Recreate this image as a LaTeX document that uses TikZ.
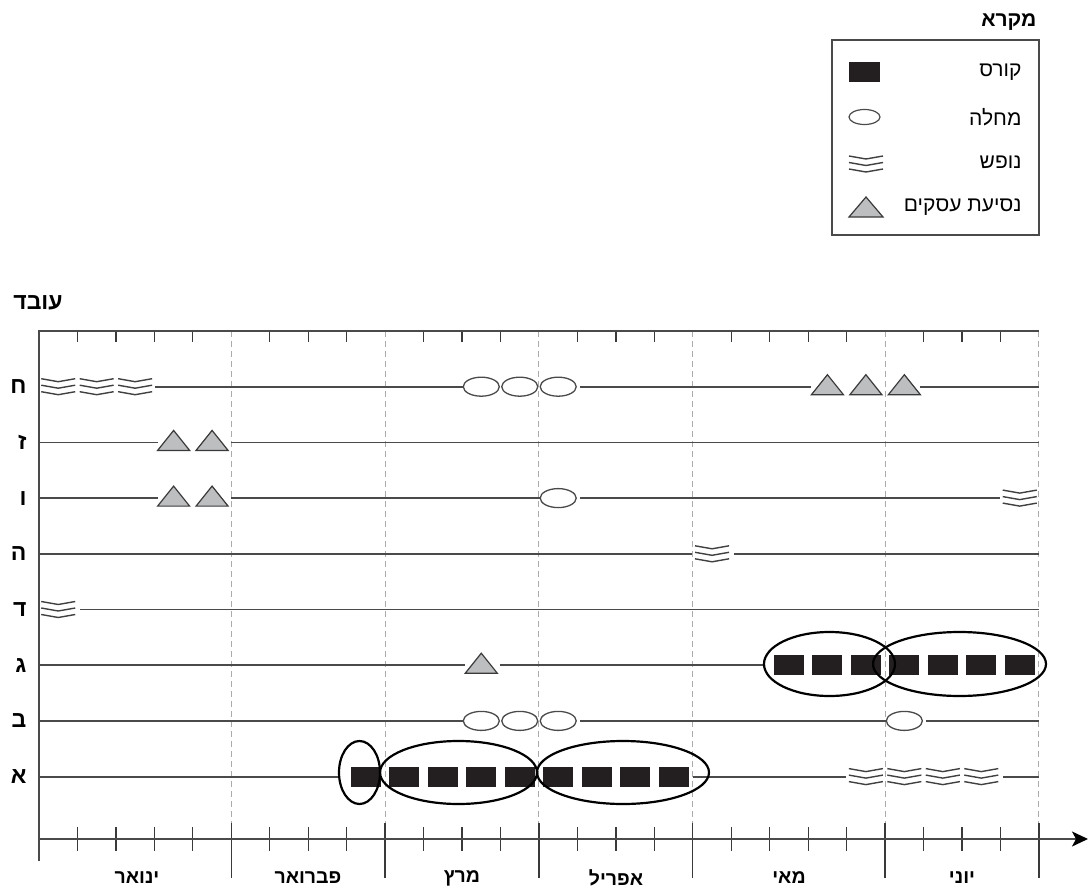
\documentclass[tikz,border=0pt]{standalone}
\usepackage{fontspec}
\setmainfont{Liberation Sans}
\newfontfamily\heb[Script=Hebrew]{Liberation Sans}
\newfontfamily\hebB[Script=Hebrew]{Liberation Sans Bold}
\TeXXeTstate=1
\usetikzlibrary{arrows.meta,shapes.geometric}
\definecolor{linegray}{HTML}{4A4A4A}
\definecolor{dashgray}{HTML}{ABABAB}
\definecolor{tripfill}{HTML}{BCBEC0}
\definecolor{blk}{HTML}{231F20}
\definecolor{tickc}{HTML}{3A3A3A}
\definecolor{wavec}{HTML}{404040}
\def\RyH{386.7}\def\RyZ{442.4}\def\RyV{498.1}\def\RyHe{553.8}
\def\RyD{609.5}\def\RyG{665.2}\def\RyB{720.9}\def\RyA{776.6}
\newcommand\gx[1]{(39+38.46*(#1))}
\newcommand\cx[1]{(39+38.46*(#1+0.5))}
\newcommand\crs[3]{\node[course] (#3) at ({\cx{#1}},#2) {};}
\newcommand\ilx[3]{\node[illn] (#3) at ({\cx{#1}},#2) {};}
\newcommand\trx[2]{\pgfmathsetmacro\tcx{\cx{#1}}%
  \draw[tripst] ({\tcx-16},{#2+8}) -- ({\tcx+16},{#2+8}) -- (\tcx,{#2-12}) -- cycle;}
\newcommand\wvraw[3]{\foreach \o in {-8,-1.5,5}{%
  \draw[wavest] ({#1-#3},{#2+\o}) -- ({#1},{#2+\o+3}) -- ({#1+#3},{#2+\o});}}
\newcommand\wvx[2]{\pgfmathsetmacro\wcx{\cx{#1}}\wvraw{\wcx}{#2}{17}}
\newcommand\seg[3]{\draw[rowline] ({#1},#3) -- ({#2},#3);}
\begin{document}
\begin{tikzpicture}[x=1pt,y=-1pt,
  rowline/.style={draw=linegray,line width=1.8pt},
  frame/.style={draw=linegray,line width=1.6pt},
  tick/.style={draw=tickc,line width=1.3pt},
  monthsep/.style={draw=dashgray,line width=1pt,dash pattern=on 6pt off 4pt},
  course/.style={rectangle,fill=blk,minimum width=30pt,minimum height=20pt,inner sep=0pt},
  illn/.style={ellipse,draw=linegray,fill=white,line width=1.3pt,minimum width=36pt,minimum height=19pt,inner sep=0pt},
  tripst/.style={draw=tickc,fill=tripfill,line width=1.2pt,line join=miter},
  wavest/.style={draw=wavec,line width=1.4pt},
  hilite/.style={ellipse,draw=black,line width=2.2pt,inner sep=0pt},
  rowlab/.style={anchor=east,font=\hebB\fontsize{23}{23}\selectfont},
  monlab/.style={font=\hebB\fontsize{19.5}{19.5}\selectfont},
  title/.style={font=\hebB\fontsize{21}{21}\selectfont},
  leglab/.style={anchor=east,font=\heb\fontsize{21}{21}\selectfont}
]
\useasboundingbox (0,0) rectangle (1088,891);

% ---------- legend ----------
\node[title,anchor=east] (legtitle) at (1040,22) {\beginR מקרא\endR};
\draw[draw=linegray,line width=1.2pt] (832,40) rectangle (1039,235);
\node[rectangle,fill=blk,minimum width=31pt,minimum height=20pt,inner sep=0pt] (legc) at (864.5,72) {};
\node[ellipse,draw=linegray,fill=white,line width=1.2pt,minimum width=31pt,minimum height=15pt,inner sep=0pt] (legi) at (864.5,117) {};
\wvraw{866}{164}{17}
\draw[tripst] (849,217) -- (883,217) -- (866,197) -- cycle;
\node[leglab] (l1) at (1025,72) {\beginR קורס\endR};
\node[leglab] (l2) at (1025,117) {\beginR מחלה\endR};
\node[leglab] (l3) at (1025,162) {\beginR נופש\endR};
\node[leglab] (l4) at (1025,207) {\beginR נסיעת עסקים\endR};

% ---------- axis title ----------
\node[title,font=\hebB\fontsize{23}{23}\selectfont] (ytitle) at (38,303) {\beginR עובד\endR};

% ---------- month separators ----------
\foreach \i in {5,9,13,17,22,26}{
  \draw[monthsep] ({\gx{\i}},331) -- ({\gx{\i}},823);
  \draw[tick] ({\gx{\i}},823) -- ({\gx{\i}},878);
}
\foreach \i in {1,2,3,4,6,7,8,10,11,12,14,15,16,18,19,20,21,23,24,25}{
  \draw[tick] ({\gx{\i}},331) -- ({\gx{\i}},342);
  \draw[tick] ({\gx{\i}},827) -- ({\gx{\i}},851);
}
\draw[frame] (39,861) -- (39,331) -- (1039,331);
\draw[frame,-{Stealth[length=16pt,width=15pt,inset=4pt,color=black,fill=black]}] (39,839) -- (1088,839);

% ---------- row labels ----------
\node[rowlab] (lH) at (30,\RyH) {\beginR ח\endR};
\node[rowlab] (lZ) at (30,\RyZ) {\beginR ז\endR};
\node[rowlab] (lV) at (30,\RyV) {\beginR ו\endR};
\node[rowlab] (lHe) at (30,\RyHe) {\beginR ה\endR};
\node[rowlab] (lD) at (30,\RyD) {\beginR ד\endR};
\node[rowlab] (lG) at (30,\RyG) {\beginR ג\endR};
\node[rowlab] (lB) at (30,\RyB) {\beginR ב\endR};
\node[rowlab] (lA) at (30,\RyA) {\beginR א\endR};

% ---------- month labels ----------
\node[monlab] (m1) at (137,878) {\beginR ינואר\endR};
\node[monlab] (m2) at (308,878) {\beginR פברואר\endR};
\node[monlab] (m3) at (462,878) {\beginR מרץ\endR};
\node[monlab] (m4) at (616,878) {\beginR אפריל\endR};
\node[monlab] (m5) at (789,878) {\beginR מאי\endR};
\node[monlab] (m6) at (962,878) {\beginR יוני\endR};

% ---------- row ח ----------
\wvx{0}{\RyH}\wvx{1}{\RyH}\wvx{2}{\RyH}
\seg{\gx{3}+1}{\cx{11}-18}{\RyH}
\ilx{11}{\RyH}{h11}\ilx{12}{\RyH}{h12}\ilx{13}{\RyH}{h13}
\seg{\cx{13}+22}{\cx{20}-16}{\RyH}
\trx{20}{\RyH}\trx{21}{\RyH}\trx{22}{\RyH}
\seg{\cx{22}+16}{\gx{26}}{\RyH}

% ---------- row ז ----------
\seg{\gx{0}}{\cx{3}-16}{\RyZ}
\trx{3}{\RyZ}\trx{4}{\RyZ}
\seg{\cx{4}+19}{\gx{26}}{\RyZ}

% ---------- row ו ----------
\seg{\gx{0}}{\cx{3}-16}{\RyV}
\trx{3}{\RyV}\trx{4}{\RyV}
\seg{\cx{4}+19}{\cx{13}-18}{\RyV}
\ilx{13}{\RyV}{v13}
\seg{\cx{13}+22}{\cx{25}-20}{\RyV}
\wvx{25}{\RyV}

% ---------- row ה ----------
\seg{\gx{0}}{\cx{17}-20}{\RyHe}
\wvx{17}{\RyHe}
\seg{\cx{17}+22}{\gx{26}}{\RyHe}

% ---------- row ד ----------
\wvx{0}{\RyD}
\seg{\cx{0}+22}{\gx{26}}{\RyD}

% ---------- row ג ----------
\seg{\gx{0}}{\cx{11}-16}{\RyG}
\trx{11}{\RyG}
\seg{\cx{11}+19}{764}{\RyG}
\foreach \k in {19,...,25}{\crs{\k}{\RyG}{g\k}}

% ---------- row ב ----------
\seg{\gx{0}}{\cx{11}-18}{\RyB}
\ilx{11}{\RyB}{b11}\ilx{12}{\RyB}{b12}\ilx{13}{\RyB}{b13}
\seg{\cx{13}+22}{\cx{22}-18}{\RyB}
\ilx{22}{\RyB}{b22}
\seg{\cx{22}+22}{\gx{26}}{\RyB}

% ---------- row א ----------
\seg{\gx{0}}{339}{\RyA}
\foreach \k in {8,...,16}{\crs{\k}{\RyA}{a\k}}
\seg{\cx{16}+19}{\cx{21}-20}{\RyA}
\wvx{21}{\RyA}\wvx{22}{\RyA}\wvx{23}{\RyA}\wvx{24}{\RyA}
\seg{\cx{24}+22}{\gx{26}}{\RyA}

% ---------- highlight ellipses ----------
\node[hilite,minimum width=41pt,minimum height=63pt] (e1) at (359.5,772.5) {};
\node[hilite,minimum width=157pt,minimum height=63pt] (e2) at (458.5,772.5) {};
\node[hilite,minimum width=172pt,minimum height=63pt] (e3) at (623,772.5) {};
\node[hilite,minimum width=131pt,minimum height=64pt] (e4) at (829.5,664) {};
\node[hilite,minimum width=173pt,minimum height=64pt] (e5) at (959.5,664) {};
\end{tikzpicture}
\end{document}
